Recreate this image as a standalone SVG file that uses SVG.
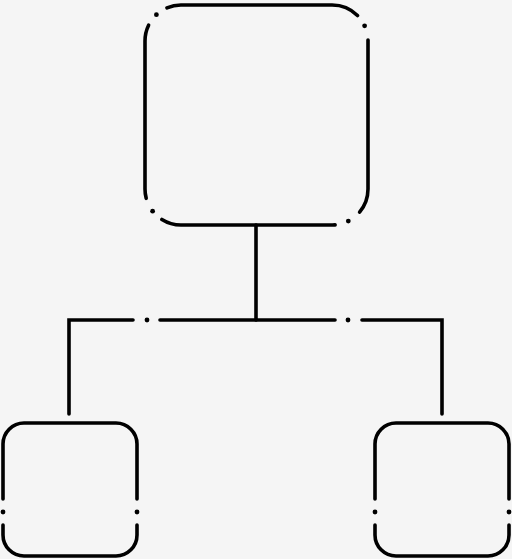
<svg xmlns="http://www.w3.org/2000/svg" width="512" height="559" viewBox="0 0 512 559">
  <style>
    .s { fill: none; stroke: #000000; stroke-width: 3.6; stroke-linecap: round; stroke-linejoin: miter; }
    .d { fill: #000000; }
  </style>
  <rect x="0" y="0" width="512" height="559" fill="#f5f5f5"/>
  <g id="connectors">
    <path class="s" d="M256,225 V320"/>
    <path class="s" d="M69,414 V320 H133"/>
    <circle class="d" cx="147" cy="320" r="2.4"/>
    <path class="s" d="M160,320 H335"/>
    <circle class="d" cx="348" cy="320" r="2.4"/>
    <path class="s" d="M362,320 H442 V414"/>
  </g>
  <g id="node-top">
    <path class="s" d="M167,7.8 A36,36 0 0 1 181,5 H332 A36,36 0 0 1 357.5,15.5"/>
    <circle class="d" cx="364.6" cy="25.8" r="2.4"/>
    <path class="s" d="M368,40 V189 A36,36 0 0 1 359.6,212.1"/>
    <circle class="d" cx="348.3" cy="221.1" r="2.4"/>
    <path class="s" d="M335.1,224.9 A36,36 0 0 1 332,225 H181 A36,36 0 0 1 161.9,219.5"/>
    <circle class="d" cx="152.6" cy="211.2" r="2.4"/>
    <path class="s" d="M146.2,198.3 A36,36 0 0 1 145,189 V41 A36,36 0 0 1 148.6,25.2"/>
    <circle class="d" cx="156.4" cy="14.7" r="2.4"/>
  </g>
  <g id="node-left">
    <path class="s" d="M3,499 V444 A21,21 0 0 1 24,423 H116 A21,21 0 0 1 137,444 V499"/>
    <circle class="d" cx="137" cy="512" r="2.4"/>
    <path class="s" d="M137,525 V535 A21,21 0 0 1 116,556 H24 A21,21 0 0 1 3,535 V525"/>
    <circle class="d" cx="3" cy="512" r="2.4"/>
  </g>
  <g id="node-right">
    <path class="s" d="M375,499 V444 A21,21 0 0 1 396,423 H488 A21,21 0 0 1 509,444 V499"/>
    <circle class="d" cx="509" cy="512" r="2.4"/>
    <path class="s" d="M509,525 V535 A21,21 0 0 1 488,556 H396 A21,21 0 0 1 375,535 V525"/>
    <circle class="d" cx="375" cy="512" r="2.4"/>
  </g>
</svg>
